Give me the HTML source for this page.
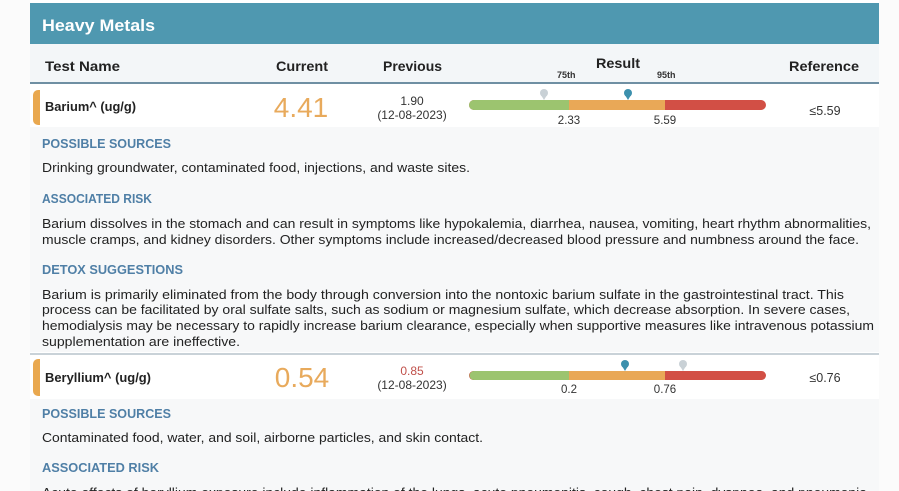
<!DOCTYPE html>
<html><head><meta charset="utf-8"><style>
html,body{margin:0;padding:0;background:#fff;width:899px;height:491px;overflow:hidden}
svg{display:block}
text{font-family:"Liberation Sans",Arial,sans-serif}
</style></head><body>
<svg width="899" height="491" viewBox="0 0 899 491">
<rect x="0" y="0" width="899" height="491" fill="#fbfbfb"/>
<rect x="30" y="0" width="849" height="491" fill="#ffffff"/>
<!-- header -->
<rect x="30" y="3" width="849" height="41" fill="#4f98b0"/>
<text x="42" y="31" font-size="17" font-weight="bold" fill="#ffffff" textLength="113" lengthAdjust="spacingAndGlyphs">Heavy Metals</text>
<!-- column header -->
<rect x="30" y="44" width="849" height="39" fill="#f3f6f8"/>
<rect x="30" y="82" width="849" height="2" fill="#6f8fa3"/>
<g font-size="14" font-weight="bold" fill="#222">
<text x="45" y="71" textLength="75" lengthAdjust="spacingAndGlyphs">Test Name</text>
<text x="276" y="71" textLength="52" lengthAdjust="spacingAndGlyphs">Current</text>
<text x="383" y="71" textLength="59" lengthAdjust="spacingAndGlyphs">Previous</text>
<text x="596" y="68" textLength="44" lengthAdjust="spacingAndGlyphs">Result</text>
<text x="789" y="71" textLength="70" lengthAdjust="spacingAndGlyphs">Reference</text>
</g>
<text x="557" y="78" font-size="9" font-weight="bold" fill="#333">75th</text>
<text x="657" y="78" font-size="9" font-weight="bold" fill="#333">95th</text>
<!-- row 1 -->
<path d="M40 90 v35 h-2 a5 5 0 0 1 -5 -5 v-25 a5 5 0 0 1 5 -5z" fill="#e9a84f"/>
<text x="45" y="111" font-size="12.5" font-weight="bold" fill="#222" textLength="91" lengthAdjust="spacingAndGlyphs">Barium^ (ug/g)</text>
<text x="301" y="117" font-size="28" fill="#e8aa5c" text-anchor="middle">4.41</text>
<text x="412" y="105" font-size="12" fill="#333" text-anchor="middle">1.90</text>
<text x="412" y="119" font-size="12" fill="#333" text-anchor="middle">(12-08-2023)</text>
<rect x="469" y="100" width="297" height="10" rx="5" fill="#d24f45"/>
<path d="M474 100 h95 v10 h-95 a5 5 0 0 1 0 -10z" fill="#9cc46f"/>
<rect x="569" y="100" width="96" height="10" fill="#e9a857"/>
<circle cx="544" cy="93" r="4" fill="#c9d1d6"/><path d="M541 95 L544 100 L547 95z" fill="#c9d1d6"/>
<circle cx="628" cy="93" r="4" fill="#3c90ad"/><path d="M625 95 L628 100 L631 95z" fill="#3c90ad"/>
<text x="569" y="124" font-size="11.5" fill="#333" text-anchor="middle">2.33</text>
<text x="665" y="124" font-size="11.5" fill="#333" text-anchor="middle">5.59</text>
<text x="825" y="115" font-size="12.5" fill="#333" text-anchor="middle">≤5.59</text>
<!-- details 1 -->
<rect x="30" y="127" width="849" height="225" fill="#f7f8f9"/>
<g font-size="12.5" font-weight="bold" fill="#4f7fa6">
<text x="42" y="148" textLength="129" lengthAdjust="spacingAndGlyphs">POSSIBLE SOURCES</text>
<text x="42" y="203" textLength="110" lengthAdjust="spacingAndGlyphs">ASSOCIATED RISK</text>
<text x="42" y="274" textLength="141" lengthAdjust="spacingAndGlyphs">DETOX SUGGESTIONS</text>
</g>
<g font-size="12.5" fill="#222" lengthAdjust="spacingAndGlyphs">
<text x="42" y="172" textLength="428" lengthAdjust="spacingAndGlyphs">Drinking groundwater, contaminated food, injections, and waste sites.</text>
<text x="42" y="228" textLength="829" lengthAdjust="spacingAndGlyphs">Barium dissolves in the stomach and can result in symptoms like hypokalemia, diarrhea, nausea, vomiting, heart rhythm abnormalities,</text>
<text x="42" y="244" textLength="817" lengthAdjust="spacingAndGlyphs">muscle cramps, and kidney disorders. Other symptoms include increased/decreased blood pressure and numbness around the face.</text>
<text x="42" y="299" textLength="802" lengthAdjust="spacingAndGlyphs">Barium is primarily eliminated from the body through conversion into the nontoxic barium sulfate in the gastrointestinal tract. This</text>
<text x="42" y="314" textLength="808" lengthAdjust="spacingAndGlyphs">process can be facilitated by oral sulfate salts, such as sodium or magnesium sulfate, which decrease absorption. In severe cases,</text>
<text x="42" y="330" textLength="832" lengthAdjust="spacingAndGlyphs">hemodialysis may be necessary to rapidly increase barium clearance, especially when supportive measures like intravenous potassium</text>
<text x="42" y="346" textLength="198" lengthAdjust="spacingAndGlyphs">supplementation are ineffective.</text>
</g>
<rect x="30" y="353" width="849" height="2" fill="#c9d2d8"/>
<!-- row 2 -->
<path d="M40 359 v37 h-2 a5 5 0 0 1 -5 -5 v-27 a5 5 0 0 1 5 -5z" fill="#e9a84f"/>
<text x="45" y="382" font-size="12.5" font-weight="bold" fill="#222" textLength="106" lengthAdjust="spacingAndGlyphs">Beryllium^ (ug/g)</text>
<text x="302" y="387" font-size="28" fill="#e8aa5c" text-anchor="middle">0.54</text>
<text x="412" y="375" font-size="12" fill="#c0504a" text-anchor="middle">0.85</text>
<text x="412" y="389" font-size="12" fill="#333" text-anchor="middle">(12-08-2023)</text>
<rect x="469" y="371" width="297" height="9" rx="4.5" fill="#d24f45"/>
<path d="M474 371 h95 v9 h-95 a4.5 4.5 0 0 1 0 -9z" fill="#9cc46f"/>
<rect x="569" y="371" width="96" height="9" fill="#e9a857"/>
<circle cx="625" cy="364" r="4" fill="#3c90ad"/><path d="M622 366 L625 371 L628 366z" fill="#3c90ad"/>
<circle cx="683" cy="364" r="4" fill="#c9d1d6"/><path d="M680 366 L683 371 L686 366z" fill="#c9d1d6"/>
<text x="569" y="393" font-size="11.5" fill="#333" text-anchor="middle">0.2</text>
<text x="665" y="393" font-size="11.5" fill="#333" text-anchor="middle">0.76</text>
<text x="825" y="382" font-size="12.5" fill="#333" text-anchor="middle">≤0.76</text>
<rect x="30" y="399" width="849" height="92" fill="#f7f8f9"/>
<g font-size="12.5" font-weight="bold" fill="#4f7fa6">
<text x="42" y="418" textLength="129" lengthAdjust="spacingAndGlyphs">POSSIBLE SOURCES</text>
<text x="42" y="472" textLength="117" lengthAdjust="spacingAndGlyphs">ASSOCIATED RISK</text>
</g>
<text x="42" y="442" font-size="12.5" fill="#222" textLength="441" lengthAdjust="spacingAndGlyphs">Contaminated food, water, and soil, airborne particles, and skin contact.</text>
<text x="42" y="497" font-size="12.5" fill="#222" textLength="825" lengthAdjust="spacingAndGlyphs">Acute effects of beryllium exposure include inflammation of the lungs, acute pneumonitis, cough, chest pain, dyspnea, and pneumonia</text>
</svg>
</body></html>
